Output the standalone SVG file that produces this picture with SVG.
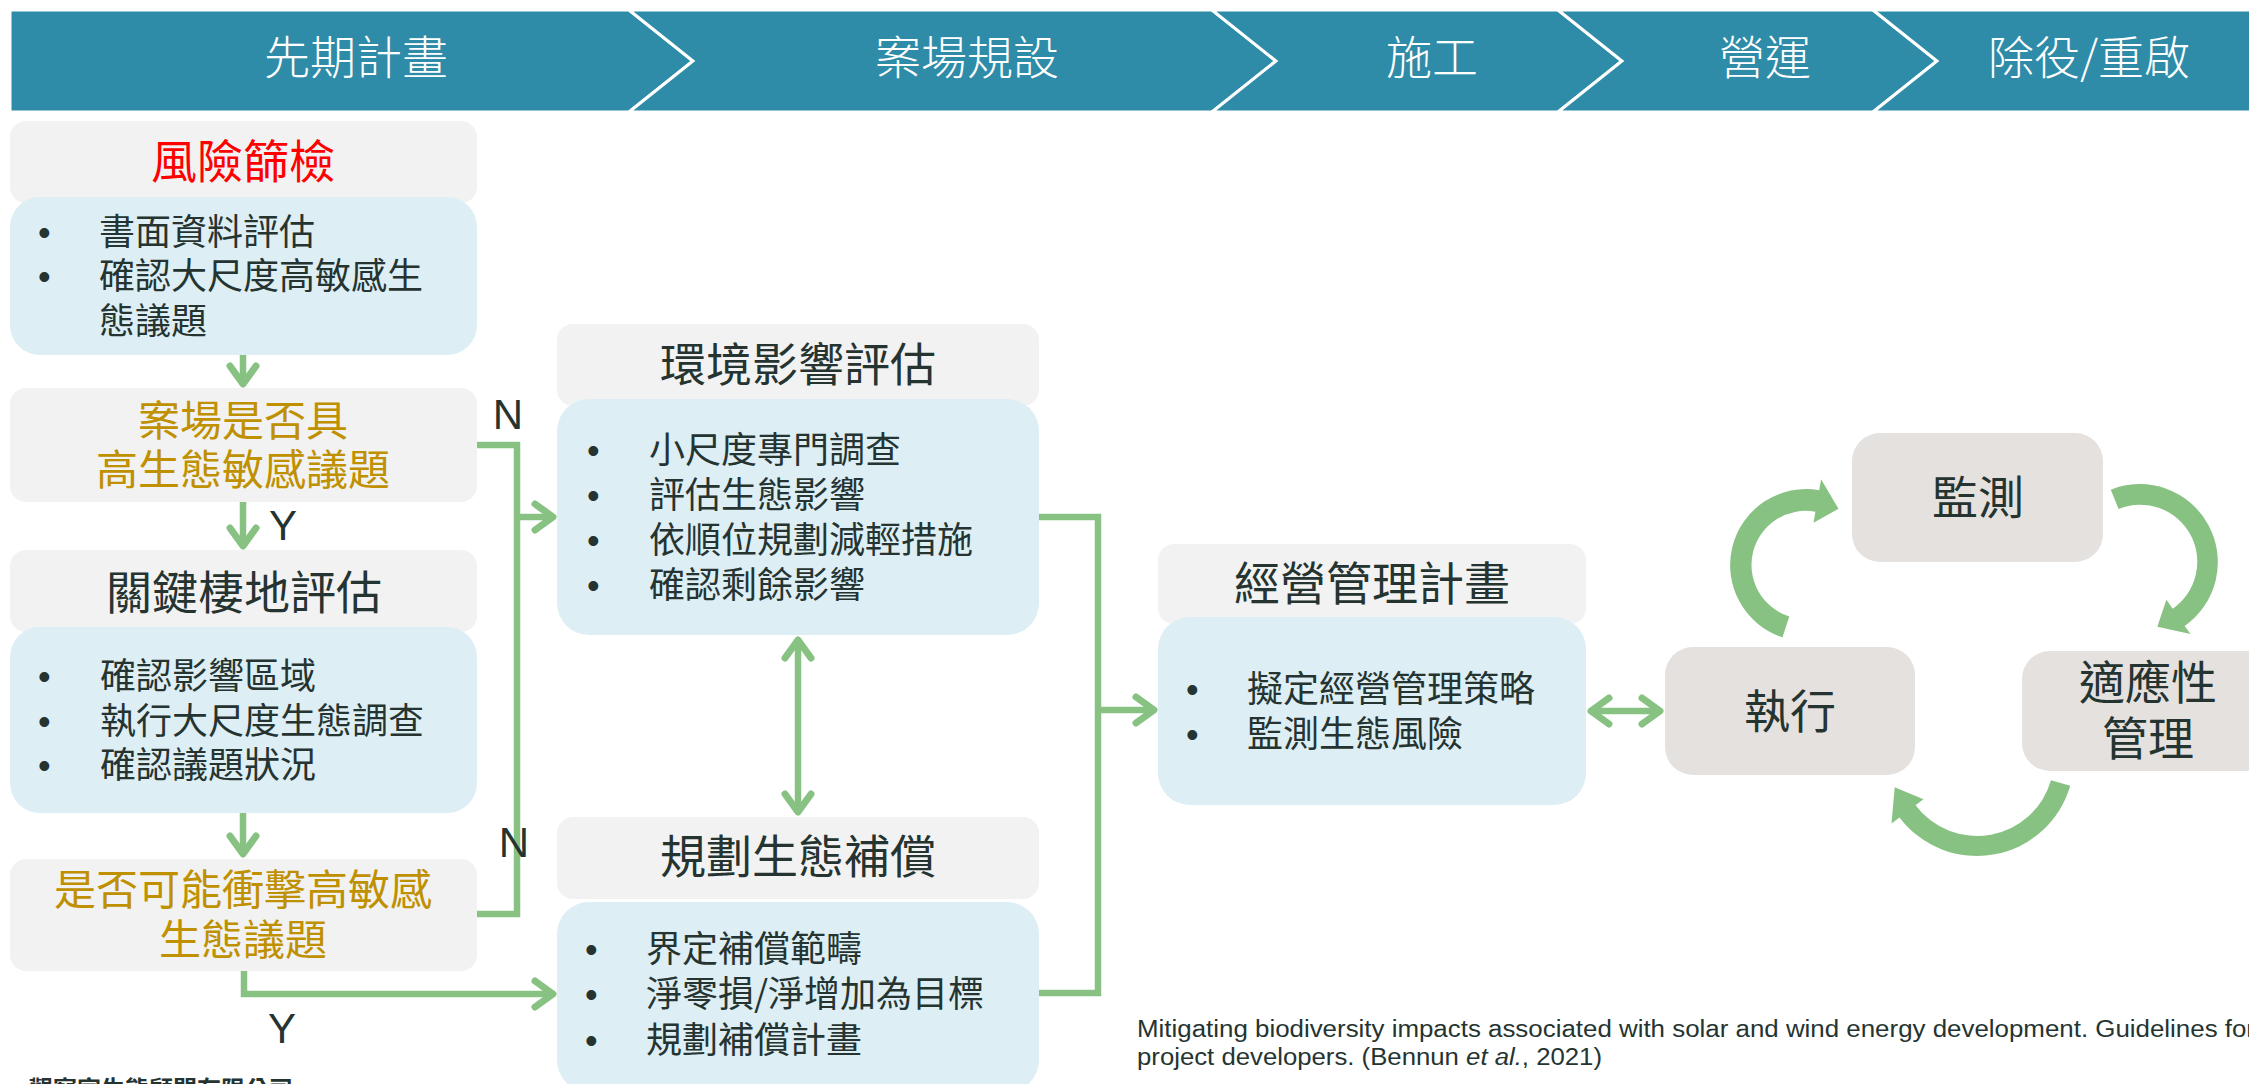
<svg xmlns="http://www.w3.org/2000/svg" width="2249" height="1084" viewBox="0 0 2249 1084">
<style>
.hdr{fill:#2E8CA8;stroke:#ffffff;stroke-width:3}
.ht{font-family:"Noto Sans CJK TC","Noto Sans CJK SC",sans-serif;font-size:46px;font-weight:300;fill:#ffffff;text-anchor:middle}
.gb{fill:#F2F2F2}
.bb{fill:#DDEEF5}
.cb{fill:#E4E1DF}
.t{font-family:"Noto Sans CJK TC","Noto Sans CJK SC",sans-serif;fill:#253431}
.title{font-size:46px;text-anchor:middle}
.q{font-size:42px;fill:#BF9000;text-anchor:middle}
.li{font-size:36px}
.bul{font-family:"Liberation Sans",sans-serif;font-size:36px}
.yn{font-family:"Liberation Sans",sans-serif;font-size:42px;fill:#253431;text-anchor:middle}
.cn{fill:none;stroke:#87C283;stroke-width:6.5}
.ca{fill:#87C283}
.cite{font-family:"Liberation Sans",sans-serif;font-size:23px;fill:#253431}
</style>
<defs>
<marker id="ah" viewBox="-24 -17 28 34" refX="0" refY="0" markerWidth="28" markerHeight="34" markerUnits="userSpaceOnUse" orient="auto-start-reverse">
<path d="M-18,-13 L0,0 L-18,13" fill="none" stroke="#87C283" stroke-width="7" stroke-linecap="round" stroke-linejoin="round"/>
</marker>
</defs>

<g id="header">
<polygon class="hdr" points="10,10 629,10 693,61 629,112 10,112"/>
<polygon class="hdr" points="629,10 1212,10 1276,61 1212,112 629,112 693,61"/>
<polygon class="hdr" points="1212,10 1558,10 1622,61 1558,112 1212,112 1276,61"/>
<polygon class="hdr" points="1558,10 1873,10 1937,61 1873,112 1558,112 1622,61"/>
<polygon class="hdr" points="1873,10 2262,10 2262,112 1873,112 1937,61"/>
<text class="ht" x="356" y="74">先期計畫</text>
<text class="ht" x="967" y="74">案場規設</text>
<text class="ht" x="1432" y="74">施工</text>
<text class="ht" x="1765" y="74">營運</text>
<text class="ht" x="2089" y="74">除役/重啟</text>
</g>

<g id="risk-screening">
<rect class="gb" x="10" y="121" width="467" height="82" rx="16"/>
<rect class="bb" x="10" y="197" width="467" height="158" rx="30"/>
<text class="t title" x="243" y="178" style="fill:#FF0000">風險篩檢</text>
<text class="t li"><tspan class="bul" x="38" y="245">•</tspan><tspan x="99" y="245">書面資料評估</tspan><tspan class="bul" x="38" y="289">•</tspan><tspan x="99" y="289">確認大尺度高敏感生</tspan><tspan x="99" y="334">態議題</tspan></text>
</g>

<g id="q-sensitive">
<rect class="gb" x="10" y="388" width="467" height="114" rx="16"/>
<text class="t q"><tspan x="243" y="436">案場是否具</tspan><tspan x="243" y="485">高生態敏感議題</tspan></text>
</g>

<g id="habitat">
<rect class="gb" x="10" y="550" width="467" height="82" rx="16"/>
<rect class="bb" x="10" y="627" width="467" height="186" rx="30"/>
<text class="t title" x="244" y="609">關鍵棲地評估</text>
<text class="t li"><tspan class="bul" x="38" y="689">•</tspan><tspan x="100" y="689">確認影響區域</tspan><tspan class="bul" x="38" y="734">•</tspan><tspan x="100" y="734">執行大尺度生態調查</tspan><tspan class="bul" x="38" y="778">•</tspan><tspan x="100" y="778">確認議題狀況</tspan></text>
</g>

<g id="q-impact">
<rect class="gb" x="10" y="859" width="467" height="112" rx="16"/>
<text class="t q"><tspan x="243" y="905">是否可能衝擊高敏感</tspan><tspan x="243" y="955">生態議題</tspan></text>
</g>

<g id="eia">
<rect class="gb" x="557" y="324" width="482" height="82" rx="16"/>
<rect class="bb" x="557" y="399" width="482" height="236" rx="32"/>
<text class="t title" x="798" y="381">環境影響評估</text>
<text class="t li"><tspan class="bul" x="587" y="463">•</tspan><tspan x="649" y="463">小尺度專門調查</tspan><tspan class="bul" x="587" y="508">•</tspan><tspan x="649" y="508">評估生態影響</tspan><tspan class="bul" x="587" y="553">•</tspan><tspan x="649" y="553">依順位規劃減輕措施</tspan><tspan class="bul" x="587" y="598">•</tspan><tspan x="649" y="598">確認剩餘影響</tspan></text>
</g>

<g id="offset">
<rect class="gb" x="557" y="817" width="482" height="82" rx="16"/>
<rect class="bb" x="557" y="902" width="482" height="190" rx="32"/>
<text class="t title" x="798" y="873">規劃生態補償</text>
<text class="t li"><tspan class="bul" x="585" y="962">•</tspan><tspan x="646" y="962">界定補償範疇</tspan><tspan class="bul" x="585" y="1007">•</tspan><tspan x="646" y="1007">淨零損/淨增加為目標</tspan><tspan class="bul" x="585" y="1053">•</tspan><tspan x="646" y="1053">規劃補償計畫</tspan></text>
</g>

<g id="mgmt-plan">
<rect class="gb" x="1158" y="544" width="428" height="80" rx="16"/>
<rect class="bb" x="1158" y="617" width="428" height="188" rx="32"/>
<text class="t title" x="1372" y="600">經營管理計畫</text>
<text class="t li"><tspan class="bul" x="1186" y="702">•</tspan><tspan x="1247" y="702">擬定經營管理策略</tspan><tspan class="bul" x="1186" y="747">•</tspan><tspan x="1247" y="747">監測生態風險</tspan></text>
</g>

<g id="monitor">
<rect class="cb" x="1852" y="433" width="251" height="129" rx="28"/>
<text class="t title" x="1978" y="514">監測</text>
</g>

<g id="execute">
<rect class="cb" x="1665" y="647" width="250" height="128" rx="28"/>
<text class="t title" x="1790" y="728">執行</text>
</g>

<g id="adaptive">
<rect class="cb" x="2022" y="651" width="252" height="120" rx="28"/>
<text class="t title"><tspan x="2148" y="699">適應性</tspan><tspan x="2148" y="755">管理</tspan></text>
</g>

<g id="connectors">
<line class="cn" x1="243" y1="355" x2="243" y2="384" marker-end="url(#ah)"/>
<line class="cn" x1="243" y1="502" x2="243" y2="546" marker-end="url(#ah)"/>
<line class="cn" x1="243" y1="813" x2="243" y2="854" marker-end="url(#ah)"/>
<polyline class="cn" points="477,445 517,445 517,914 477,914"/>
<line class="cn" x1="517" y1="517" x2="553" y2="517" marker-end="url(#ah)"/>
<polyline class="cn" points="244,971 244,994 553,994" marker-end="url(#ah)"/>
<polyline class="cn" points="1039,517 1098,517 1098,993 1039,993"/>
<line class="cn" x1="1098" y1="710" x2="1154" y2="710" marker-end="url(#ah)"/>
<line class="cn" x1="798" y1="640" x2="798" y2="812" marker-start="url(#ah)" marker-end="url(#ah)"/>
<line class="cn" x1="1591" y1="711" x2="1660" y2="711" marker-start="url(#ah)" marker-end="url(#ah)"/>
<path class="ca" d="M1782.5,637.3 A76,76 0 0 1 1819.2,490.2 L1821.1,479.3 L1838.5,508.7 L1813.5,522.7 L1815.4,511.8 A54,54 0 0 0 1789.3,616.4 Z"/>
<path class="ca" d="M2110.8,489.7 A78,78 0 0 1 2184.7,625.9 L2190.5,634.1 L2157.3,626.7 L2166.4,599.7 L2172.7,608.7 A57,57 0 0 0 2118.6,509.1 Z"/>
<path class="ca" d="M2070.2,785.7 A97,97 0 0 1 1899.5,817.4 L1891.5,823.4 L1894.7,787.3 L1923.5,799.3 L1915.5,805.3 A77,77 0 0 0 2051.0,780.2 Z"/>
</g>

<g id="labels">
<text class="yn" x="508" y="429">N</text>
<text class="yn" x="283" y="540">Y</text>
<text class="yn" x="514" y="857">N</text>
<text class="yn" x="282" y="1043">Y</text>
<text class="cite" x="1137" y="1037" textLength="1118" lengthAdjust="spacingAndGlyphs">Mitigating biodiversity impacts associated with solar and wind energy development. Guidelines for</text>
<text class="cite" x="1137" y="1065" textLength="465" lengthAdjust="spacingAndGlyphs">project developers. (Bennun <tspan font-style="italic">et al.</tspan>, 2021)</text>
<text class="t" x="29" y="1098" style="font-size:24px;font-weight:bold">觀察家生態顧問有限公司</text>
</g>
</svg>
